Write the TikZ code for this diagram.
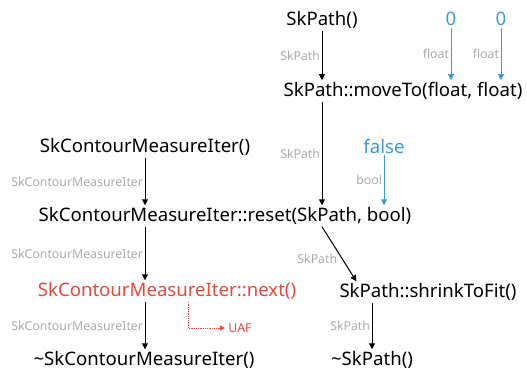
\documentclass[tikz,border=0pt]{standalone}
\usepackage{fontspec}
\setmainfont{Noto Sans}
\usepackage{xcolor}
\usepackage{tikz}
\usetikzlibrary{calc,positioning,arrows.meta}

\definecolor{argblue}{RGB}{58,154,220}
\definecolor{uafred}{RGB}{232,72,63}
\definecolor{typegray}{RGB}{170,170,170}

\tikzset{
  call/.style={inner sep=2pt, font=\fontsize{18.6}{20}\selectfont},
  arg/.style={call, text=argblue},
  typelbl/.style={text=typegray, inner sep=1.5pt, font=\fontsize{12.3}{14}\selectfont},
  flow/.style={-{Triangle[length=6pt,width=6pt]}, line width=1pt},
  argflow/.style={flow, draw=argblue},
  uafflow/.style={-{Triangle[length=5pt,width=5pt]}, densely dotted, draw=uafred, line width=0.8pt}
}

\begin{document}
\begin{tikzpicture}[x=1pt, y=-1pt]
    \useasboundingbox (0,0) rectangle (527,373);

    % calls
    \node [call] (path_ctor) at (322,20) {SkPath()};
    \node [call] (move_to) at (403,91) {SkPath::moveTo(float, float)};
    \node [call] (iter_ctor) at (145,147) {SkContourMeasureIter()};
    \node [call] (reset) at (225,216) {SkContourMeasureIter::reset(SkPath, bool)};
    \node [call, text=uafred] (next) at (167,291) {SkContourMeasureIter::next()};
    \node [call] (shrink) at (428,292) {SkPath::shrinkToFit()};
    \node [call] (iter_dtor) at (144,360) {\textasciitilde SkContourMeasureIter()};
    \node [call] (path_dtor) at (372,360) {\textasciitilde SkPath()};

    % arguments
    \node [arg] (x_val) at (451,19) {0};
    \node [arg] (y_val) at (501,19) {0};
    \node [arg] (false_val) at (384,146) {false};

    \node [text=uafred, font=\fontsize{12.3}{14}\selectfont] (uaf) at (240,328) {UAF};

    \draw[flow] (path_ctor.south) -- node[left, typelbl] {SkPath} (path_ctor.south |- move_to.north);
    \draw[argflow] (x_val) -- node[left, typelbl] {float} (x_val |- move_to.north);
    \draw[argflow] (y_val) -- node[left, typelbl] {float} (y_val |- move_to.north);
    \draw[flow] (move_to.south -| path_ctor) -- node[left, typelbl] {SkPath} (path_ctor |- reset.north);
    \draw[argflow] (false_val) -- node[left, typelbl] {bool} (false_val |- reset.north);
    \draw[flow] (iter_ctor) -- node[left, typelbl] {SkContourMeasureIter} (iter_ctor |- reset.north);
    \draw[flow] (reset.south -| iter_ctor) -- node[left, typelbl] {SkContourMeasureIter} (iter_ctor |- next.north);
    \draw[flow] (reset.south -| path_ctor) -- node[left, typelbl, pos=0.5, yshift=-5pt] {SkPath} ([xshift=19pt]shrink.north west);
    \draw[flow] (next.south -| iter_ctor) -- node[left, typelbl] {SkContourMeasureIter} (iter_ctor |- iter_dtor.north);
    \draw[flow] (shrink.south -| path_dtor) -- node[left, typelbl] {SkPath} (path_dtor.north);
    \draw[uafflow] ([xshift=21pt]next.south) |- (uaf.west);
\end{tikzpicture}
\end{document}
